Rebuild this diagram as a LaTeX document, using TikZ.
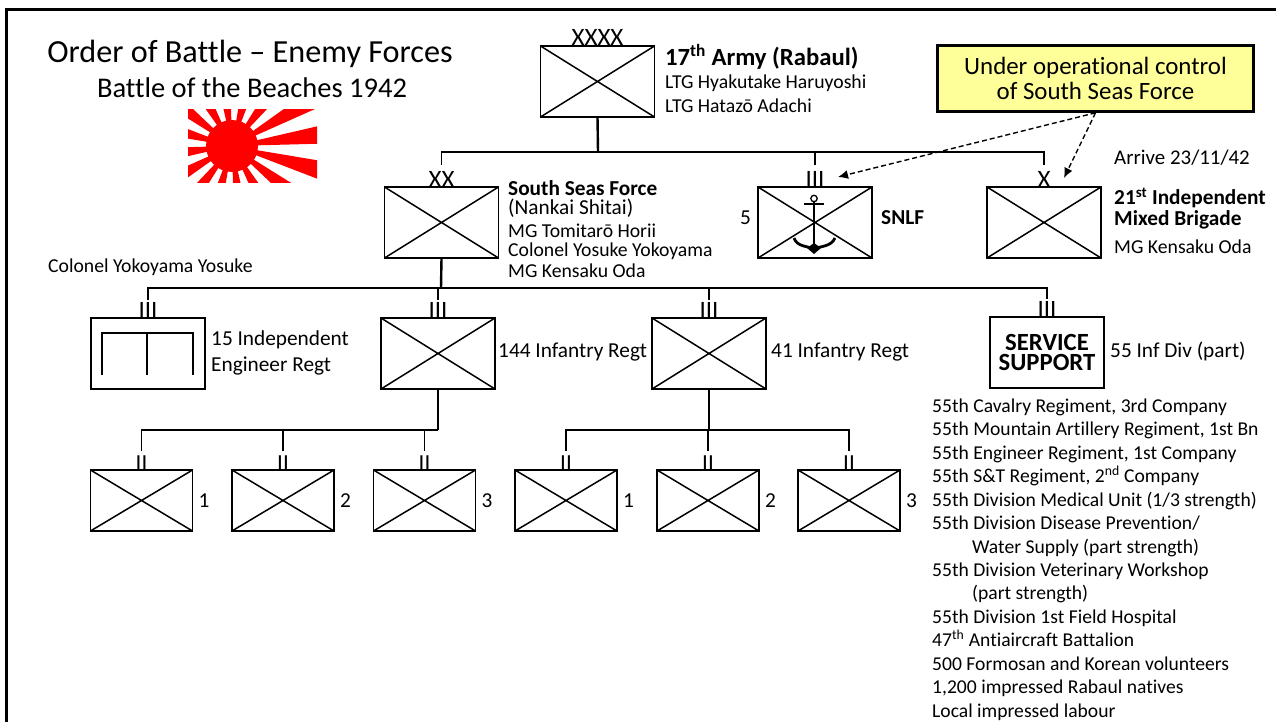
\documentclass[tikz,border=0pt]{standalone}
\usepackage{fontspec}
\setmainfont[Ligatures=NoCommon]{Carlito}
\usetikzlibrary{positioning,arrows.meta}
\tikzset{
    unit/.style = {draw, line width=1.5pt, inner sep=0pt, outer sep=0pt, minimum width=114pt, minimum height=71pt,
        path picture={\draw[line width=1.5pt] (path picture bounding box.north west) -- (path picture bounding box.south east)
            (path picture bounding box.south west) -- (path picture bounding box.north east);}},
    plainunit/.style = {draw, line width=1.5pt, inner sep=0pt, outer sep=0pt, minimum width=114pt, minimum height=71pt},
    bnunit/.style = {unit, minimum width=102pt, minimum height=61pt},
    echelon/.style = {inner sep=0pt, outer sep=0pt, text depth=0pt, font=\fontsize{25}{25}\selectfont},
    bnechelon/.style = {echelon, font=\fontsize{23}{23}\selectfont},
    lbl/.style = {inner sep=0pt, anchor=west, font=\fontsize{21.3}{22}\selectfont},
    smalllbl/.style = {lbl, font=\fontsize{19.7}{22}\selectfont},
    boldlbl/.style = {lbl, font=\fontsize{21.3}{22}\selectfont\bfseries},
    link/.style = {line width=1.7pt},
    stem/.style = {line width=2.4pt},
    droplink/.style = {link, shorten >=6pt},
    bndrop/.style = {link, shorten >=4pt},
    regtdrop/.style = {link, shorten >=2pt},
    control/.style = {dashed, dash pattern=on 5pt off 3pt, line width=1.4pt, -{Latex[length=10pt,width=9pt]}}
}
\begin{document}
\begin{tikzpicture}[x=1pt,y=-1pt]
    \useasboundingbox (0,0) rectangle (1276,722);
    \draw[line width=3pt] (6,722) -- (6,10) -- (1276,10);
    % titles
    \node (title) at (250,54) {\fontsize{32.2}{32}\selectfont Order of Battle – Enemy Forces};
    \node (subtitle) at (252,88) {\fontsize{28.5}{28}\selectfont Battle of the Beaches 1942};
    \node[smalllbl] (colonel) at (48,267) {Colonel Yokoyama Yosuke};
    % flag
    \begin{scope}
        \clip (188,110) rectangle (317,183);
        \fill[red] (232,146) circle (26);
        \begin{scope}[shift={(232,146)}]
            \fill[red]
            (0,0) -- (-13:200) -- (-1.5:200) -- cycle
            (0,0) -- (9.5:200) -- (21:200) -- cycle
            (0,0) -- (32:200) -- (43.5:200) -- cycle
            (0,0) -- (54.5:200) -- (66:200) -- cycle
            (0,0) -- (77:200) -- (88.5:200) -- cycle
            (0,0) -- (99.5:200) -- (111:200) -- cycle
            (0,0) -- (122:200) -- (133.5:200) -- cycle
            (0,0) -- (144.5:200) -- (156:200) -- cycle
            (0,0) -- (167:200) -- (178.5:200) -- cycle
            (0,0) -- (189.5:200) -- (201:200) -- cycle
            (0,0) -- (212:200) -- (223.5:200) -- cycle
            (0,0) -- (234.5:200) -- (246:200) -- cycle
            (0,0) -- (257:200) -- (268.5:200) -- cycle
            (0,0) -- (279.5:200) -- (291:200) -- cycle
            (0,0) -- (302:200) -- (313.5:200) -- cycle
            (0,0) -- (324.5:200) -- (336:200) -- cycle;
        \end{scope}
    \end{scope}
    % army and its formations
    \node[unit] (army) at (597.5,81.5) {};
    \node[echelon,above=0pt of army] (armymark) {XXXX};
    \node[lbl,font=\fontsize{24.7}{24}\selectfont\bfseries] (armyname) at (665,57) {17\textsuperscript{th} Army (Rabaul)};
    \node[smalllbl] (armycdra) at (665,83) {LTG Hyakutake Haruyoshi};
    \node[smalllbl] (armycdrb) at (665,106) {LTG Hatazō Adachi};
    \node[unit] (ssf) at (441.5,222.5) {};
    \node[echelon,above=0pt of ssf] (ssfmark) {XX};
    \node[boldlbl] (ssfname) at (508,188) {South Seas Force};
    \node[lbl] (ssfalt) at (508,208) {(Nankai Shitai)};
    \node[smalllbl] (ssfcdra) at (508,231) {MG Tomitarō Horii};
    \node[smalllbl] (ssfcdrb) at (508,251) {Colonel Yosuke Yokoyama};
    \node[smalllbl] (ssfcdrc) at (508,271) {MG Kensaku Oda};
    \node[unit] (snlf) at (815,222.5) {};
    \node[echelon,above=0pt of snlf] (snlfmark) {III};
    \node[lbl] (snlfnum) at (740,218) {5};
    \node[boldlbl] (snlfname) at (881,218) {SNLF};
    \node[unit] (brigade) at (1044,222.5) {};
    \node[echelon,above=0pt of brigade] (brigademark) {X};
    \node[lbl,font=\fontsize{20.9}{22}\selectfont] (arrive) at (1114,158) {Arrive 23/11/42};
    \node[boldlbl] (brigadename) at (1114,198) {21\textsuperscript{st} Independent};
    \node[boldlbl] (brigadenameb) at (1114,220) {Mixed Brigade};
    \node[smalllbl] (brigadecdr) at (1114,247) {MG Kensaku Oda};
    % anchor
    \draw[line width=1.3pt] (814,198.5) circle (3.2);
    \draw[line width=2.4pt] (814,202) -- (814,250);
    \draw[line width=1.7pt] (804,204) -- (824,204);
    \draw[line width=2.8pt] (794,238) .. controls (797,247) and (808,246) .. (814,249) .. controls (820,246) and (831,247) .. (835,238);
    \fill (814,254) -- (807,248) -- (814,243) -- (821,248) -- cycle;
    % callout
    \node[draw, line width=2.6pt, fill={rgb,255:red,255;green,255;blue,153}, minimum width=316pt, minimum height=66pt, inner sep=0pt, align=center,
        font=\fontsize{24.9}{25}\selectfont] (callout) at (1095.5,78.5) {Under operational control\\of South Seas Force};
    \coordinate (snlftip) at (838,177);
    \coordinate (brigadetip) at (1064,178);
    \draw[control] (callout.south) -- (snlftip);
    \draw[control] (callout.south) -- (brigadetip);
    % regiments
    \node[plainunit] (engineer) at (148,353.5) {};
    \node[echelon,above=0pt of engineer] (engineermark) {III};
    \draw[line width=1.7pt] (102,375) -- (102,333) -- (193,333) -- (193,375);
    \draw[line width=1.7pt] (147,333) -- (147,375);
    \node[lbl] (engineername) at (211,340) {15 Independent};
    \node[lbl] (engineernameb) at (211,366) {Engineer Regt};
    \node[unit] (inf144) at (438,353.5) {};
    \node[echelon,above=0pt of inf144] (inf144mark) {III};
    \node[lbl] (inf144name) at (498,352) {144 Infantry Regt};
    \node[unit] (inf41) at (709,353.5) {};
    \node[echelon,above=0pt of inf41] (inf41mark) {III};
    \node[lbl] (inf41name) at (771,352) {41 Infantry Regt};
    \node[plainunit, align=center, font=\fontsize{24.7}{20.5}\selectfont\bfseries] (service) at (1047,352.5) {SERVICE\\SUPPORT};
    \node[echelon,above=0pt of service] (servicemark) {III};
    \node[lbl] (servicename) at (1110,351) {55 Inf Div (part)};
    % service support list
    \node[inner sep=0pt, anchor=north west, align=left, font=\fontsize{19.6}{23.45}\selectfont] (servicelist) at (932,398.5) {55th Cavalry Regiment, 3rd Company\\
        55th Mountain Artillery Regiment, 1st Bn\\
        55th Engineer Regiment, 1st Company\\
        55th S\&T Regiment, 2\textsuperscript{nd} Company\\
        55th Division Medical Unit (1/3 strength)\\
        55th Division Disease Prevention/\\
        \hspace*{40pt}Water Supply (part strength)\\
        55th Division Veterinary Workshop\\
        \hspace*{40pt}(part strength)\\
        55th Division 1st Field Hospital\\
        47\textsuperscript{th} Antiaircraft Battalion\\
        500 Formosan and Korean volunteers\\
        1,200 impressed Rabaul natives\\
        Local impressed labour};
    % battalions
    \node[bnunit] (bna) at (141.5,500.5) {};
    \node[bnunit] (bnb) at (283,500.5) {};
    \node[bnunit] (bnc) at (424.5,500.5) {};
    \node[bnunit] (bnd) at (566,500.5) {};
    \node[bnunit] (bne) at (708,500.5) {};
    \node[bnunit] (bnf) at (849,500.5) {};
    \node[bnechelon,above=0pt of bna] (bnamark) {II};
    \node[bnechelon,above=0pt of bnb] (bnbmark) {II};
    \node[bnechelon,above=0pt of bnc] (bncmark) {II};
    \node[bnechelon,above=0pt of bnd] (bndmark) {II};
    \node[bnechelon,above=0pt of bne] (bnemark) {II};
    \node[bnechelon,above=0pt of bnf] (bnfmark) {II};
    \node[lbl,right=6pt of bna] (bnanum) {1};
    \node[lbl,right=6pt of bnb] (bnbnum) {2};
    \node[lbl,right=6pt of bnc] (bncnum) {3};
    \node[lbl,right=6pt of bnd] (bndnum) {1};
    \node[lbl,right=6pt of bne] (bnenum) {2};
    \node[lbl,right=6pt of bnf] (bnfnum) {3};
    % connectors
    \coordinate (armybus) at (598,152);
    \draw[stem] (army.south) -- (armybus);
    \draw[droplink] (armybus) -| (ssfmark.north);
    \draw[droplink] (armybus) -| (snlfmark.north);
    \draw[droplink] (armybus) -| (brigademark.north);
    \coordinate (ssfbus) at (441,288);
    \draw[stem] (ssf.south) -- (ssfbus);
    \draw[regtdrop] (ssfbus) -| (engineermark.north);
    \draw[regtdrop] (ssfbus) -| (inf144mark.north);
    \draw[regtdrop] (ssfbus) -| (inf41mark.north);
    \draw[regtdrop] (ssfbus) -| (servicemark.north);
    \coordinate (inf144bus) at (438,430);
    \draw[stem] (inf144.south) -- (inf144bus);
    \draw[bndrop] (inf144bus) -| (bnamark.north);
    \draw[bndrop] (inf144bus) -| (bnbmark.north);
    \draw[bndrop] (inf144bus) -| (bncmark.north);
    \coordinate (inf41bus) at (709,430);
    \draw[stem] (inf41.south) -- (inf41bus);
    \draw[bndrop] (inf41bus) -| (bndmark.north);
    \draw[bndrop] (inf41bus) -| (bnemark.north);
    \draw[bndrop] (inf41bus) -| (bnfmark.north);
\end{tikzpicture}
\end{document}
